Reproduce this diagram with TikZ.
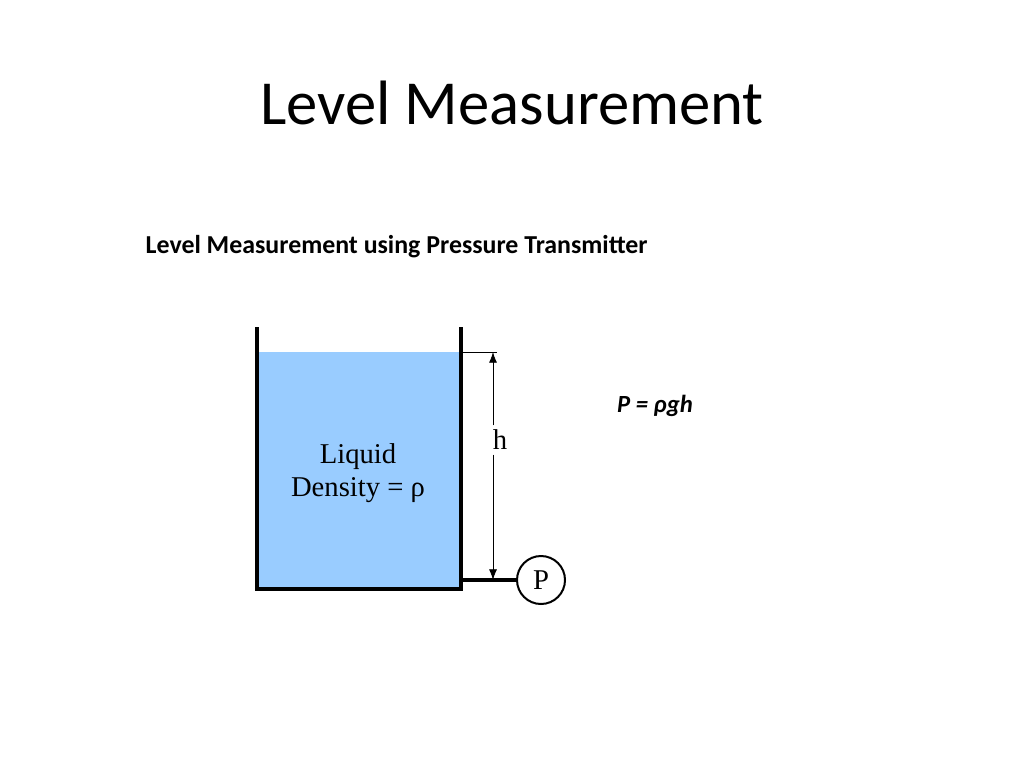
\documentclass[tikz,border=0pt]{standalone}
\usepackage{fontspec}
\usetikzlibrary{arrows.meta}
\setmainfont{Carlito}
\newfontfamily\tnr{Liberation Serif}
\begin{document}
\begin{tikzpicture}[x=1pt,y=-1pt,
  wall/.style={line width=3.2pt},
  tnrlbl/.style={font=\tnr\fontsize{21.5}{24}\selectfont}]
\useasboundingbox (0,0) rectangle (768,576);
\begin{scope}[x=0.75pt,y=-0.75pt]
\fill[fill={rgb,255:red,153;green,204;blue,255}] (259,352) rectangle (459,587);
\draw[wall] (257,327) -- (257,591);
\draw[wall] (461,327) -- (461,591);
\draw[wall] (255,589) -- (463,589);
\draw[line width=0.6pt] (463,352) -- (497,352);
\node[font=\fontsize{47}{54}\selectfont] (title) at (512,103) {Level Measurement};
\node[anchor=west,font=\bfseries\fontsize{19.4}{22}\selectfont] (sub) at (141,247) {Level Measurement using Pressure Transmitter};
\node[tnrlbl] (liq) at (358,457) {Liquid};
\node[tnrlbl] (den) at (358,490) {Density = ρ};
\node[tnrlbl] (h) at (500,440) {h};
\node[draw,circle,line width=1.5pt,minimum size=36pt,inner sep=0pt,tnrlbl] (P) at (541,580) {P};
\coordinate (top) at (493,352);
\coordinate (bot) at (493,580);
\coordinate (pj) at (463,580);
\draw[line width=2.4pt] (pj) -- (P);
\draw[-{Latex[length=8pt,width=6pt]},line width=0.6pt] (h.north -| top) -- (top);
\draw[-{Latex[length=8pt,width=6pt]},line width=0.6pt] (h.south -| bot) -- (bot);
\node[font=\bfseries\itshape\fontsize{18.5}{22}\selectfont] (eq) at (655,406) {P = ρgh};
\end{scope}
\end{tikzpicture}
\end{document}
